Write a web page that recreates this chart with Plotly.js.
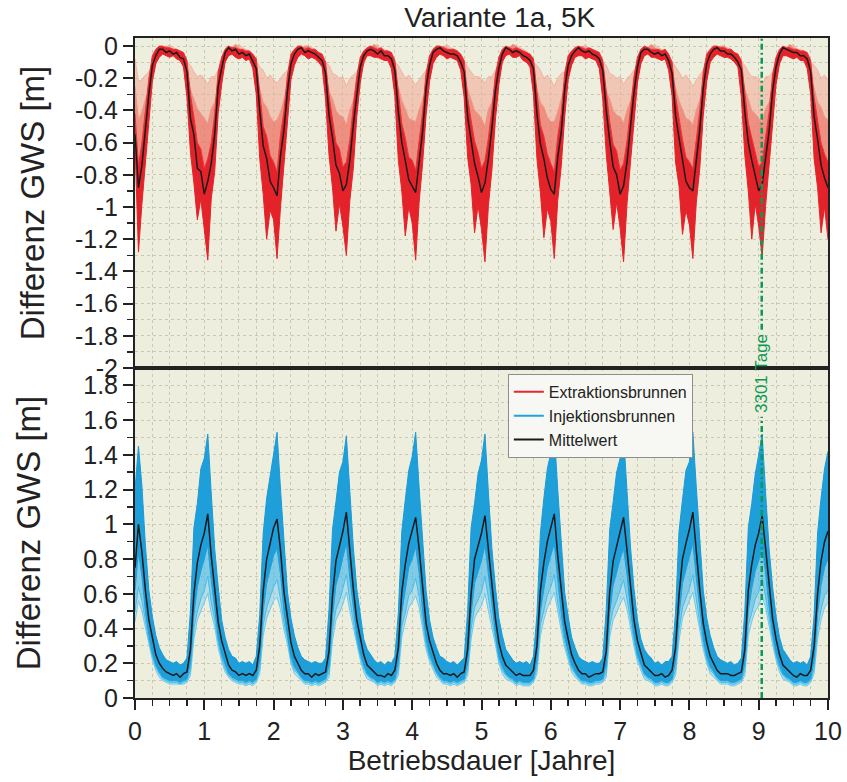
<!DOCTYPE html>
<html>
<head>
<meta charset="utf-8">
<script src="https://cdn.plot.ly/plotly-3.0.1.min.js"></script>
<style>html,body{margin:0;padding:0;background:#fff;}#chart{width:847px;height:782px;}</style>
</head>
<body>
<div id="chart"></div>
<script>
// ---- data (years 0..10, sampled every 0.05 year) ----
const stepYears = 0.05;
const markerDay = 3301;

// top panel: extraction wells (Differenz GWS [m])
const extrMean = [
-0.55,-0.88,-0.74,-0.50,-0.30,-0.12,-0.06,-0.02,-0.02,-0.04,-0.03,-0.05,-0.04,-0.07,-0.08,-0.16,-0.45,-0.55,-0.76,-0.78,
-0.92,-0.84,-0.73,-0.55,-0.25,-0.14,-0.04,-0.01,-0.03,-0.02,-0.05,-0.04,-0.06,-0.05,-0.10,-0.14,-0.40,-0.62,-0.70,-0.84,
-0.88,-0.93,-0.68,-0.52,-0.28,-0.11,-0.05,-0.02,-0.01,-0.04,-0.03,-0.04,-0.05,-0.07,-0.09,-0.17,-0.43,-0.57,-0.74,-0.79,
-0.90,-0.86,-0.71,-0.49,-0.29,-0.13,-0.06,-0.03,-0.02,-0.03,-0.05,-0.03,-0.06,-0.06,-0.08,-0.15,-0.41,-0.60,-0.71,-0.83,
-0.87,-0.91,-0.72,-0.53,-0.26,-0.12,-0.04,-0.02,-0.01,-0.03,-0.04,-0.05,-0.05,-0.06,-0.10,-0.16,-0.44,-0.58,-0.73,-0.81,
-0.91,-0.85,-0.70,-0.51,-0.28,-0.14,-0.05,-0.01,-0.02,-0.04,-0.03,-0.04,-0.06,-0.07,-0.09,-0.14,-0.42,-0.61,-0.70,-0.82,
-0.89,-0.92,-0.69,-0.54,-0.27,-0.12,-0.06,-0.03,-0.01,-0.03,-0.04,-0.03,-0.05,-0.06,-0.08,-0.15,-0.40,-0.59,-0.75,-0.80,
-0.92,-0.87,-0.72,-0.50,-0.29,-0.13,-0.04,-0.02,-0.02,-0.04,-0.05,-0.04,-0.06,-0.05,-0.09,-0.17,-0.43,-0.57,-0.72,-0.84,
-0.88,-0.90,-0.71,-0.52,-0.26,-0.11,-0.05,-0.02,-0.01,-0.03,-0.03,-0.05,-0.05,-0.07,-0.10,-0.15,-0.41,-0.60,-0.71,-0.81,
-0.90,-0.86,-0.70,-0.53,-0.28,-0.13,-0.05,-0.01,-0.02,-0.03,-0.04,-0.04,-0.06,-0.06,-0.08,-0.16,-0.44,-0.58,-0.74,-0.82,
-0.88];

const extrUpper = [
-0.42,-0.74,-0.60,-0.38,-0.20,-0.06,-0.02,0.00,0.00,-0.01,-0.01,-0.02,-0.02,-0.03,-0.04,-0.09,-0.30,-0.44,-0.60,-0.64,
-0.76,-0.70,-0.60,-0.42,-0.16,-0.07,-0.02,0.00,-0.01,-0.01,-0.02,-0.02,-0.03,-0.03,-0.05,-0.08,-0.28,-0.50,-0.56,-0.68,
-0.72,-0.78,-0.55,-0.40,-0.18,-0.05,-0.02,0.00,0.00,-0.02,-0.01,-0.02,-0.02,-0.04,-0.05,-0.10,-0.31,-0.45,-0.60,-0.64,
-0.75,-0.72,-0.58,-0.37,-0.19,-0.07,-0.03,-0.01,0.00,-0.01,-0.02,-0.01,-0.03,-0.03,-0.04,-0.09,-0.29,-0.48,-0.57,-0.69,
-0.71,-0.77,-0.59,-0.41,-0.17,-0.06,-0.02,0.00,0.00,-0.01,-0.02,-0.02,-0.02,-0.03,-0.05,-0.09,-0.32,-0.46,-0.59,-0.66,
-0.76,-0.71,-0.57,-0.39,-0.18,-0.07,-0.02,0.00,-0.01,-0.02,-0.01,-0.02,-0.03,-0.04,-0.05,-0.08,-0.30,-0.49,-0.56,-0.67,
-0.73,-0.78,-0.56,-0.42,-0.17,-0.06,-0.03,-0.01,0.00,-0.01,-0.02,-0.01,-0.02,-0.03,-0.04,-0.09,-0.28,-0.47,-0.61,-0.65,
-0.77,-0.73,-0.59,-0.38,-0.19,-0.07,-0.02,0.00,-0.01,-0.02,-0.02,-0.02,-0.03,-0.02,-0.05,-0.10,-0.31,-0.45,-0.58,-0.69,
-0.72,-0.76,-0.58,-0.40,-0.16,-0.05,-0.02,0.00,0.00,-0.01,-0.01,-0.02,-0.02,-0.04,-0.05,-0.09,-0.29,-0.48,-0.57,-0.66,
-0.75,-0.72,-0.57,-0.41,-0.18,-0.07,-0.02,0.00,-0.01,-0.01,-0.02,-0.02,-0.03,-0.03,-0.04,-0.09,-0.32,-0.46,-0.60,-0.67,
-0.72];

const extrDeep = [
-0.62,-1.28,-0.98,-0.72,-0.46,-0.22,-0.11,-0.07,-0.05,-0.06,-0.07,-0.06,-0.08,-0.09,-0.13,-0.32,-0.66,-0.85,-1.08,-0.95,
-1.15,-1.33,-0.95,-0.78,-0.42,-0.24,-0.10,-0.06,-0.05,-0.07,-0.08,-0.07,-0.09,-0.08,-0.14,-0.30,-0.70,-0.92,-1.20,-1.02,
-1.08,-1.32,-1.00,-0.74,-0.45,-0.21,-0.12,-0.07,-0.05,-0.06,-0.08,-0.07,-0.08,-0.10,-0.13,-0.33,-0.68,-0.88,-1.15,-0.98,
-1.12,-1.30,-0.96,-0.76,-0.44,-0.23,-0.10,-0.06,-0.06,-0.07,-0.07,-0.08,-0.09,-0.09,-0.14,-0.31,-0.71,-0.90,-1.18,-1.00,
-1.10,-1.33,-0.97,-0.73,-0.43,-0.22,-0.11,-0.07,-0.05,-0.06,-0.08,-0.07,-0.08,-0.09,-0.15,-0.32,-0.69,-0.86,-1.16,-0.99,
-1.14,-1.34,-0.99,-0.77,-0.46,-0.24,-0.10,-0.06,-0.05,-0.07,-0.07,-0.06,-0.09,-0.10,-0.13,-0.30,-0.70,-0.91,-1.19,-1.01,
-1.09,-1.32,-0.96,-0.75,-0.44,-0.21,-0.12,-0.07,-0.06,-0.06,-0.08,-0.07,-0.08,-0.09,-0.14,-0.33,-0.67,-0.89,-1.14,-0.97,
-1.13,-1.34,-0.98,-0.72,-0.45,-0.23,-0.11,-0.06,-0.05,-0.07,-0.07,-0.08,-0.09,-0.08,-0.15,-0.31,-0.72,-0.87,-1.17,-1.02,
-1.11,-1.32,-0.97,-0.76,-0.43,-0.22,-0.10,-0.07,-0.05,-0.06,-0.07,-0.07,-0.08,-0.10,-0.13,-0.32,-0.68,-0.90,-1.20,-0.98,
-1.12,-1.31,-0.99,-0.74,-0.46,-0.24,-0.11,-0.06,-0.06,-0.07,-0.08,-0.07,-0.09,-0.09,-0.14,-0.30,-0.70,-0.88,-1.16,-1.00,
-1.20];

const extrPaleA = [
-0.25,-0.46,-0.41,-0.33,-0.27,-0.18,-0.11,-0.05,-0.02,0.00,-0.01,-0.02,-0.03,-0.05,-0.09,-0.17,-0.27,-0.33,-0.39,-0.42,
-0.45,-0.48,-0.39,-0.35,-0.25,-0.19,-0.10,-0.05,-0.01,0.01,-0.01,-0.03,-0.04,-0.06,-0.11,-0.19,-0.26,-0.35,-0.38,-0.44,
-0.47,-0.46,-0.41,-0.33,-0.26,-0.17,-0.10,-0.05,-0.02,0.00,0.00,-0.02,-0.03,-0.05,-0.10,-0.17,-0.28,-0.33,-0.40,-0.43,
-0.44,-0.49,-0.40,-0.34,-0.25,-0.18,-0.11,-0.05,-0.01,0.01,-0.01,-0.02,-0.04,-0.06,-0.09,-0.18,-0.26,-0.34,-0.39,-0.45,
-0.46,-0.47,-0.40,-0.33,-0.27,-0.17,-0.09,-0.05,-0.02,0.00,-0.01,-0.03,-0.03,-0.05,-0.11,-0.17,-0.27,-0.33,-0.40,-0.42,
-0.45,-0.50,-0.39,-0.35,-0.25,-0.19,-0.10,-0.05,-0.01,0.01,0.00,-0.02,-0.04,-0.06,-0.10,-0.19,-0.26,-0.35,-0.38,-0.44,
-0.47,-0.47,-0.41,-0.33,-0.26,-0.17,-0.11,-0.05,-0.02,0.00,-0.01,-0.02,-0.03,-0.05,-0.09,-0.17,-0.28,-0.33,-0.40,-0.43,
-0.44,-0.48,-0.40,-0.34,-0.25,-0.18,-0.09,-0.05,-0.01,0.01,-0.01,-0.03,-0.04,-0.06,-0.11,-0.18,-0.26,-0.34,-0.39,-0.45,
-0.46,-0.49,-0.40,-0.33,-0.27,-0.17,-0.10,-0.05,-0.02,0.00,0.00,-0.02,-0.03,-0.05,-0.10,-0.17,-0.27,-0.33,-0.40,-0.42,
-0.45,-0.47,-0.39,-0.35,-0.25,-0.19,-0.11,-0.05,-0.01,0.01,-0.01,-0.02,-0.04,-0.06,-0.09,-0.19,-0.26,-0.35,-0.38,-0.44,
-0.46];

const extrPaleB = [
-0.08,-0.22,-0.21,-0.18,-0.16,-0.11,-0.08,-0.04,-0.02,-0.01,0.01,-0.01,-0.02,-0.04,-0.06,-0.10,-0.12,-0.16,-0.19,-0.18,
-0.20,-0.24,-0.19,-0.19,-0.15,-0.12,-0.07,-0.04,-0.01,0.00,0.01,-0.01,-0.02,-0.03,-0.07,-0.09,-0.13,-0.15,-0.20,-0.18,
-0.21,-0.23,-0.20,-0.17,-0.15,-0.11,-0.08,-0.04,-0.02,-0.01,0.00,-0.01,-0.02,-0.04,-0.06,-0.10,-0.12,-0.17,-0.18,-0.20,
-0.19,-0.25,-0.20,-0.18,-0.16,-0.11,-0.07,-0.04,-0.01,0.00,0.01,-0.02,-0.02,-0.03,-0.07,-0.10,-0.12,-0.16,-0.20,-0.18,
-0.21,-0.24,-0.21,-0.18,-0.15,-0.12,-0.08,-0.04,-0.02,-0.01,0.01,-0.01,-0.02,-0.04,-0.06,-0.09,-0.13,-0.16,-0.19,-0.19,
-0.20,-0.23,-0.19,-0.19,-0.15,-0.11,-0.07,-0.04,-0.01,0.00,0.00,-0.01,-0.02,-0.03,-0.07,-0.10,-0.12,-0.15,-0.20,-0.18,
-0.21,-0.25,-0.20,-0.17,-0.16,-0.11,-0.08,-0.04,-0.02,-0.01,0.01,-0.02,-0.02,-0.04,-0.06,-0.10,-0.12,-0.17,-0.18,-0.20,
-0.19,-0.24,-0.20,-0.18,-0.15,-0.12,-0.07,-0.04,-0.01,0.00,0.01,-0.01,-0.02,-0.03,-0.07,-0.09,-0.13,-0.16,-0.20,-0.18,
-0.21,-0.25,-0.21,-0.18,-0.15,-0.11,-0.08,-0.04,-0.02,-0.01,0.00,-0.01,-0.02,-0.04,-0.06,-0.10,-0.12,-0.16,-0.19,-0.19,
-0.20,-0.24,-0.19,-0.19,-0.16,-0.11,-0.07,-0.04,-0.01,0.00,0.01,-0.02,-0.02,-0.03,-0.07,-0.10,-0.12,-0.15,-0.20,-0.18,
-0.21];

// bottom panel: injection wells
const injMean = [
0.75,1.00,0.84,0.62,0.45,0.34,0.25,0.20,0.17,0.15,0.14,0.13,0.14,0.12,0.14,0.15,0.28,0.60,0.78,0.88,
0.95,1.06,0.82,0.64,0.44,0.33,0.26,0.19,0.16,0.15,0.13,0.14,0.13,0.14,0.13,0.16,0.30,0.62,0.80,0.90,
0.98,1.03,0.85,0.61,0.46,0.32,0.24,0.20,0.16,0.14,0.14,0.12,0.14,0.13,0.14,0.15,0.27,0.59,0.79,0.87,
0.96,1.07,0.83,0.63,0.45,0.34,0.25,0.19,0.17,0.15,0.13,0.13,0.12,0.14,0.13,0.16,0.29,0.61,0.77,0.89,
0.97,1.04,0.86,0.62,0.43,0.33,0.26,0.20,0.16,0.14,0.14,0.13,0.14,0.12,0.14,0.15,0.28,0.60,0.80,0.88,
0.95,1.05,0.84,0.64,0.46,0.32,0.24,0.19,0.17,0.15,0.13,0.14,0.13,0.13,0.13,0.16,0.30,0.62,0.78,0.90,
0.98,1.06,0.82,0.61,0.44,0.34,0.25,0.20,0.16,0.14,0.14,0.12,0.13,0.14,0.14,0.15,0.27,0.61,0.79,0.87,
0.96,1.04,0.85,0.63,0.45,0.33,0.26,0.19,0.17,0.15,0.13,0.13,0.14,0.12,0.13,0.16,0.29,0.59,0.80,0.89,
0.97,1.07,0.83,0.62,0.43,0.32,0.24,0.20,0.16,0.14,0.14,0.14,0.13,0.13,0.14,0.15,0.28,0.62,0.77,0.88,
0.95,1.05,0.86,0.64,0.46,0.34,0.25,0.19,0.17,0.15,0.13,0.12,0.14,0.13,0.13,0.16,0.30,0.60,0.79,0.90,
0.96];

const injUpper = [
1.20,1.45,1.22,0.88,0.62,0.47,0.36,0.29,0.25,0.22,0.21,0.20,0.21,0.19,0.20,0.23,0.50,0.98,1.12,1.32,
1.38,1.52,1.18,0.86,0.64,0.45,0.35,0.28,0.24,0.23,0.20,0.21,0.20,0.21,0.19,0.24,0.48,0.95,1.15,1.28,
1.40,1.53,1.20,0.89,0.61,0.46,0.36,0.29,0.24,0.22,0.21,0.20,0.21,0.20,0.20,0.23,0.51,0.97,1.13,1.30,
1.36,1.51,1.19,0.87,0.63,0.47,0.34,0.28,0.25,0.22,0.20,0.21,0.19,0.21,0.20,0.24,0.49,0.96,1.14,1.31,
1.39,1.53,1.21,0.88,0.62,0.45,0.35,0.29,0.24,0.23,0.21,0.20,0.21,0.19,0.21,0.23,0.50,0.98,1.12,1.29,
1.37,1.52,1.18,0.86,0.64,0.46,0.36,0.28,0.25,0.22,0.20,0.21,0.20,0.21,0.19,0.24,0.48,0.95,1.15,1.32,
1.41,1.53,1.20,0.89,0.61,0.47,0.35,0.29,0.24,0.22,0.21,0.20,0.21,0.20,0.20,0.23,0.51,0.97,1.13,1.30,
1.38,1.51,1.19,0.87,0.63,0.45,0.34,0.28,0.25,0.23,0.20,0.21,0.19,0.21,0.21,0.24,0.49,0.96,1.14,1.31,
1.36,1.53,1.21,0.88,0.62,0.46,0.36,0.29,0.24,0.22,0.21,0.20,0.21,0.19,0.20,0.23,0.50,0.98,1.12,1.29,
1.40,1.52,1.18,0.86,0.64,0.47,0.35,0.28,0.25,0.22,0.20,0.21,0.20,0.21,0.19,0.24,0.48,0.95,1.15,1.32,
1.42];

const injLower = [
0.62,0.84,0.70,0.50,0.36,0.26,0.19,0.15,0.12,0.11,0.10,0.10,0.10,0.09,0.10,0.11,0.20,0.48,0.64,0.73,
0.80,0.88,0.68,0.52,0.35,0.25,0.20,0.14,0.12,0.11,0.10,0.10,0.09,0.10,0.09,0.11,0.22,0.50,0.66,0.74,
0.82,0.86,0.71,0.49,0.37,0.24,0.18,0.15,0.12,0.10,0.10,0.09,0.10,0.09,0.10,0.11,0.19,0.47,0.65,0.72,
0.81,0.89,0.69,0.51,0.36,0.26,0.19,0.14,0.12,0.11,0.09,0.10,0.09,0.10,0.09,0.11,0.21,0.49,0.63,0.75,
0.80,0.87,0.72,0.50,0.34,0.25,0.20,0.15,0.12,0.10,0.10,0.09,0.10,0.09,0.10,0.11,0.20,0.48,0.66,0.73,
0.79,0.88,0.70,0.52,0.37,0.24,0.18,0.14,0.12,0.11,0.09,0.10,0.09,0.09,0.09,0.11,0.22,0.50,0.64,0.75,
0.82,0.89,0.68,0.49,0.35,0.26,0.19,0.15,0.12,0.10,0.10,0.09,0.09,0.10,0.10,0.11,0.19,0.49,0.65,0.72,
0.80,0.86,0.71,0.51,0.36,0.25,0.20,0.14,0.12,0.11,0.09,0.09,0.10,0.09,0.09,0.11,0.21,0.47,0.66,0.74,
0.81,0.89,0.69,0.50,0.34,0.24,0.18,0.15,0.12,0.10,0.10,0.10,0.09,0.09,0.10,0.11,0.20,0.50,0.63,0.73,
0.79,0.87,0.72,0.52,0.37,0.26,0.19,0.14,0.12,0.11,0.09,0.09,0.10,0.09,0.09,0.11,0.22,0.48,0.65,0.75,
0.80];

const injLightA = [
0.50,0.64,0.56,0.44,0.33,0.24,0.18,0.14,0.11,0.10,0.09,0.09,0.09,0.08,0.09,0.10,0.16,0.40,0.50,0.57,
0.62,0.70,0.55,0.45,0.32,0.23,0.17,0.13,0.11,0.10,0.09,0.09,0.08,0.09,0.08,0.10,0.17,0.42,0.52,0.58,
0.64,0.68,0.57,0.43,0.34,0.22,0.16,0.14,0.11,0.09,0.09,0.08,0.09,0.08,0.09,0.10,0.15,0.39,0.51,0.56,
0.63,0.71,0.56,0.44,0.33,0.24,0.17,0.13,0.11,0.10,0.08,0.09,0.08,0.09,0.08,0.10,0.16,0.41,0.49,0.59,
0.62,0.69,0.58,0.44,0.31,0.23,0.18,0.14,0.11,0.09,0.09,0.08,0.09,0.08,0.09,0.10,0.16,0.40,0.52,0.57,
0.61,0.70,0.56,0.45,0.34,0.22,0.16,0.13,0.11,0.10,0.08,0.09,0.08,0.08,0.08,0.10,0.17,0.42,0.50,0.59,
0.64,0.71,0.55,0.43,0.32,0.24,0.17,0.14,0.11,0.09,0.09,0.08,0.08,0.09,0.09,0.10,0.15,0.41,0.51,0.56,
0.62,0.68,0.57,0.44,0.33,0.23,0.18,0.13,0.11,0.10,0.08,0.08,0.09,0.08,0.08,0.10,0.16,0.39,0.52,0.58,
0.63,0.71,0.56,0.43,0.31,0.22,0.16,0.14,0.11,0.09,0.09,0.09,0.08,0.08,0.09,0.10,0.16,0.42,0.49,0.57,
0.61,0.69,0.58,0.45,0.34,0.24,0.17,0.13,0.11,0.10,0.08,0.08,0.09,0.08,0.08,0.10,0.17,0.40,0.51,0.59,
0.62];

const injLightB = [
0.44,0.56,0.50,0.40,0.30,0.22,0.16,0.12,0.10,0.09,0.08,0.08,0.08,0.08,0.08,0.09,0.13,0.34,0.45,0.50,
0.55,0.60,0.49,0.41,0.29,0.21,0.15,0.12,0.10,0.09,0.08,0.08,0.07,0.08,0.07,0.09,0.14,0.36,0.46,0.51,
0.56,0.58,0.51,0.39,0.31,0.20,0.14,0.12,0.10,0.08,0.08,0.07,0.08,0.07,0.08,0.09,0.12,0.33,0.45,0.49,
0.54,0.61,0.50,0.40,0.30,0.22,0.15,0.11,0.10,0.09,0.07,0.08,0.07,0.08,0.07,0.09,0.13,0.35,0.44,0.52,
0.55,0.59,0.52,0.40,0.28,0.21,0.16,0.12,0.10,0.08,0.08,0.07,0.08,0.07,0.08,0.09,0.13,0.34,0.46,0.50,
0.53,0.60,0.50,0.41,0.31,0.20,0.14,0.11,0.10,0.09,0.07,0.08,0.07,0.07,0.07,0.09,0.14,0.36,0.45,0.52,
0.56,0.61,0.49,0.39,0.29,0.22,0.15,0.12,0.10,0.08,0.08,0.07,0.07,0.08,0.08,0.09,0.12,0.35,0.45,0.49,
0.54,0.58,0.51,0.40,0.30,0.21,0.16,0.11,0.10,0.09,0.07,0.07,0.08,0.07,0.07,0.09,0.13,0.33,0.46,0.51,
0.55,0.61,0.50,0.39,0.28,0.20,0.14,0.12,0.10,0.08,0.08,0.08,0.07,0.07,0.08,0.09,0.13,0.36,0.44,0.50,
0.53,0.59,0.52,0.41,0.31,0.22,0.15,0.11,0.10,0.09,0.07,0.07,0.08,0.07,0.07,0.09,0.14,0.34,0.45,0.52,
0.55];

// tick labels
const xTickVals = [0,1,2,3,4,5,6,7,8,9,10];
const xTickText = ['0','1','2','3','4','5','6','7','8','9','10'];
const topTickVals = [0,-0.2,-0.4,-0.6,-0.8,-1,-1.2,-1.4,-1.6,-1.8,-2];
const topTickText = ['0','-0.2','-0.4','-0.6','-0.8','-1','-1.2','-1.4','-1.6','-1.8','-2'];
const botTickVals = [0,0.2,0.4,0.6,0.8,1,1.2,1.4,1.6,1.8];
const botTickText = ['0','0.2','0.4','0.6','0.8','1','1.2','1.4','1.6','1.8'];
const legendNames = ['Extraktionsbrunnen', 'Injektionsbrunnen', 'Mittelwert'];

// ---- build ----
const years = extrMean.map((_, i) => +(i * stepYears).toFixed(2));
const FONT = 'Arial, "Liberation Sans", sans-serif';
const PLOTBG = '#EDEEDD';
const GRID = '#C9CAB6';
const RED = '#E4222A', BLUE = '#1E9FDA', BLACK = '#1A1A1A', GREEN = '#0A9A55';

function line(y, color, w, axes, extra) {
  return Object.assign({x: years, y: y, type: 'scatter', mode: 'lines',
    line: {color: color, width: w}, xaxis: axes[0], yaxis: axes[1],
    showlegend: false, hoverinfo: 'skip'}, extra || {});
}
function legendItem(name, color) {
  return {x: [null], y: [null], type: 'scatter', mode: 'lines', name: name,
    line: {color: color, width: 2}, xaxis: 'x', yaxis: 'y', showlegend: true, hoverinfo: 'skip'};
}

const T = ['x2', 'y2'];
const B = ['x', 'y'];
const traces = [
  line(extrPaleB, '#F4B3A3', 1, T),
  line(extrPaleA, '#EF9584', 1, T, {fill: 'tonexty', fillcolor: 'rgba(243,165,145,0.55)'}),
  line(extrUpper, '#E8343A', 1, T, {fill: 'tonexty', fillcolor: 'rgba(236,112,98,0.75)'}),
  line(extrDeep, RED, 1, T, {fill: 'tonexty', fillcolor: RED}),
  line(extrMean, BLACK, 1.5, T),

  line(injLightB, '#6CCBF0', 1, B),
  line(injLightA, '#45BCEB', 1, B, {fill: 'tonexty', fillcolor: 'rgba(110,200,240,0.45)'}),
  line(injLower, '#1C9FDB', 1, B, {fill: 'tonexty', fillcolor: 'rgba(70,185,235,0.65)'}),
  line(injUpper, '#1A9AD6', 1, B, {fill: 'tonexty', fillcolor: BLUE}),
  line(injMean, BLACK, 1.5, B),

  legendItem(legendNames[0], '#E8262B'),
  legendItem(legendNames[1], '#1EA4E0'),
  legendItem(legendNames[2], BLACK)
];

const markerYear = markerDay / 365;
const labelY = 0.492, labelHalf = 0.066;

const axisCommon = {
  showline: true, linecolor: '#222', linewidth: 2, mirror: true,
  ticks: 'outside', ticklen: 10, tickwidth: 2, tickcolor: '#222',
  showgrid: true, gridcolor: GRID, griddash: 'dot', gridwidth: 1,
  zeroline: false,
  tickfont: {family: FONT, size: 25, color: '#222'}
};
const yTitleFont = {family: FONT, size: 33, color: '#222'};
const greenLine = {color: GREEN, width: 2.5, dash: '6px,3px,2px,3px'};

const layout = {
  width: 847, height: 782,
  paper_bgcolor: '#ffffff', plot_bgcolor: PLOTBG,
  margin: {l: 135, r: 19, t: 38, b: 84},
  font: {family: FONT, color: '#222'},
  title: {text: 'Variante 1a, 5K', font: {family: FONT, size: 28, color: '#222'},
          xref: 'container', x: 0.59, xanchor: 'center', yref: 'container', y: 0.978, yanchor: 'middle'},
  xaxis: Object.assign({}, axisCommon, {
    anchor: 'y', range: [0, 10], tickvals: xTickVals, ticktext: xTickText,
    minor: {dtick: 0.25, tick0: 0, ticks: 'outside', ticklen: 6, tickwidth: 1.5, tickcolor: '#222',
            showgrid: true, gridcolor: GRID, griddash: 'dot', gridwidth: 1},
    title: {text: 'Betriebsdauer [Jahre]', font: {family: FONT, size: 28, color: '#222'}, standoff: 4}
  }),
  xaxis2: Object.assign({}, axisCommon, {
    anchor: 'y2', matches: 'x', range: [0, 10], ticks: '', showticklabels: false,
    tickvals: xTickVals,
    minor: {dtick: 0.25, tick0: 0, showgrid: true, gridcolor: GRID, griddash: 'dot', gridwidth: 1}
  }),
  yaxis: Object.assign({}, axisCommon, {
    domain: [0, 0.5], anchor: 'x', range: [0, 1.9], tickvals: botTickVals, ticktext: botTickText,
    minor: {dtick: 0.1, tick0: 0, ticks: 'outside', ticklen: 6, tickwidth: 1.5, tickcolor: '#222',
            showgrid: true, gridcolor: GRID, griddash: 'dot', gridwidth: 1},
    title: {text: 'Differenz GWS [m]', font: yTitleFont, standoff: 33}
  }),
  yaxis2: Object.assign({}, axisCommon, {
    domain: [0.5, 1], anchor: 'x2', range: [-2, 0.05], tickvals: topTickVals, ticktext: topTickText,
    minor: {dtick: 0.1, tick0: 0, ticks: 'outside', ticklen: 6, tickwidth: 1.5, tickcolor: '#222',
            showgrid: true, gridcolor: GRID, griddash: 'dot', gridwidth: 1},
    title: {text: 'Differenz GWS [m]', font: yTitleFont, standoff: 20}
  }),
  legend: {x: 0.538, y: 0.491, xref: 'paper', yref: 'paper', xanchor: 'left', yanchor: 'top',
           traceorder: 'normal',
           bgcolor: '#F7F7F3', bordercolor: '#8E8E8E', borderwidth: 1,
           font: {family: FONT, size: 16, color: '#222'}, tracegroupgap: 0, itemwidth: 30},
  shapes: [
    {type: 'line', xref: 'x', yref: 'paper', x0: markerYear, x1: markerYear, y0: 0, y1: labelY - labelHalf,
     line: greenLine},
    {type: 'line', xref: 'x', yref: 'paper', x0: markerYear, x1: markerYear, y0: labelY + labelHalf, y1: 1,
     line: greenLine}
  ],
  annotations: [
    {text: '3301 Tage', xref: 'x', yref: 'paper', x: markerYear, y: labelY, textangle: -90,
     showarrow: false, font: {family: FONT, size: 17, color: GREEN},
     xanchor: 'center', yanchor: 'middle'}
  ]
};

Plotly.newPlot('chart', traces, layout, {displayModeBar: false, staticPlot: true});
</script>
</body>
</html>
